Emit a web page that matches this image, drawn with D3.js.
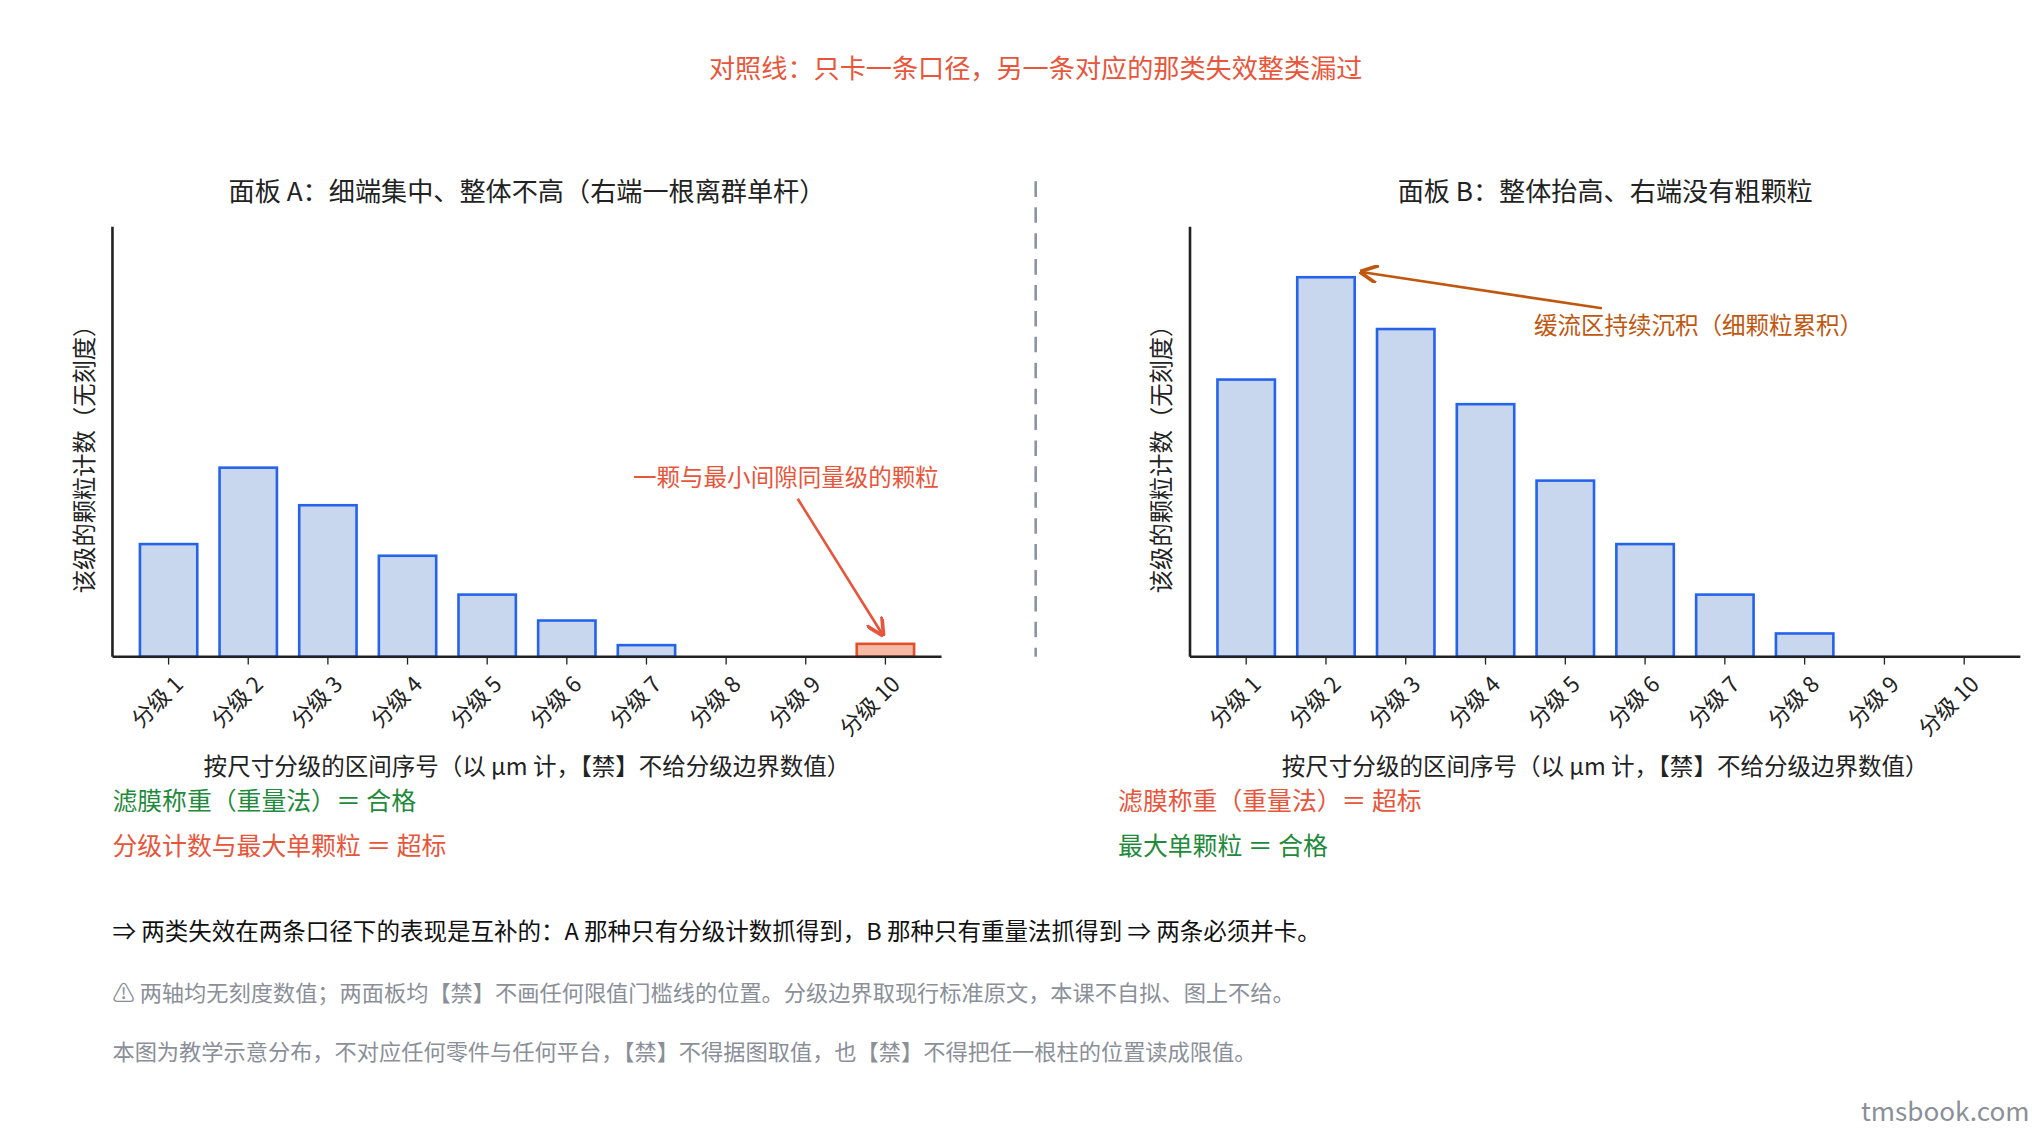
<!DOCTYPE html><html><head><meta charset="utf-8"><script src="https://cdn.jsdelivr.net/npm/d3@7"></script>
<style>body{margin:0;background:#fff}svg{display:block}text{font-family:"Noto Sans CJK SC","Noto Sans",sans-serif}</style></head><body>
<script>
const categories=["分级 1","分级 2","分级 3","分级 4","分级 5","分级 6","分级 7","分级 8","分级 9","分级 10"];
const valuesA=[87,146,117,78,48,28,9,0,0,10];
const valuesB=[214,293,253,195,136,87,48,18,0,0];
const highlightA=[false,false,false,false,false,false,false,false,false,true];
const svg=d3.select("body").append("svg").attr("width",2040).attr("height",1140).attr("viewBox","0 0 1560 880").attr("preserveAspectRatio","none");
const red="#e8553a",green="#1f8a3c",grey="#8a8f98";
function T(x,y,s,size,fill,anchor){return svg.append("text").attr("x",x).attr("y",y).text(s).attr("font-size",size).attr("fill",fill||"#222").attr("text-anchor",anchor||"start");}
T(792,60,"对照线：只卡一条口径，另一条对应的那类失效整类漏过",20,red,"middle");
svg.append("line").attr("x1",792).attr("x2",792).attr("y1",140).attr("y2",507).attr("stroke","#8a94a6").attr("stroke-width",2).attr("stroke-dasharray","12,8");
const y=d3.scaleLinear().domain([0,332]).range([507,175]);
function panel(x0,x1,vals,hl,title){
  const x=d3.scaleBand().domain(categories).range([x0+21,x1-21]).paddingInner(0.28).paddingOuter(0);
  const g=svg.append("g");
  g.selectAll("rect").data(vals).join("rect").attr("x",(d,i)=>x(categories[i])).attr("width",x.bandwidth())
   .attr("y",d=>y(d)).attr("height",d=>507-y(d)).attr("fill",(d,i)=>hl&&hl[i]?"#f5b9a6":"#c8d6ee")
   .attr("stroke",(d,i)=>hl&&hl[i]?"#e0502a":"#2563eb").attr("stroke-width",2);
  const ax=g.append("g").attr("transform","translate(0,507)").call(d3.axisBottom(x).tickSize(6).tickSizeOuter(0));
  ax.select(".domain").attr("d",`M${x0},0H${x1}`).attr("stroke","#222").attr("stroke-width",2);
  ax.selectAll(".tick line").attr("stroke","#222");
  ax.selectAll(".tick text").attr("font-size",17).attr("fill","#222").attr("text-anchor","end").attr("dy",0).attr("transform","translate(6,16) rotate(-45)");
  g.append("line").attr("x1",x0).attr("x2",x0).attr("y1",175).attr("y2",507).attr("stroke","#222").attr("stroke-width",2);
  T((x0+x1)/2,155,title,20,"#222","middle");
  T((x0+x1)/2,598,"按尺寸分级的区间序号（以 μm 计，【禁】不给分级边界数值）",18,"#222","middle");
  svg.append("text").attr("transform",`translate(${x0-15},350) rotate(-90)`).attr("text-anchor","middle").attr("font-size",18).attr("fill","#222").text("该级的颗粒计数（无刻度）");
  return x;
}
panel(86,720,valuesA,highlightA,"面板 A：细端集中、整体不高（右端一根离群单杆）");
panel(910,1545,valuesB,null,"面板 B：整体抬高、右端没有粗颗粒");
const defs=svg.append("defs");
[["ar",red],["ab","#c0570f"]].forEach(([id,c])=>defs.append("marker").attr("id",id).attr("viewBox","0 0 10 10").attr("refX",9).attr("refY",5).attr("markerWidth",7).attr("markerHeight",7).attr("orient","auto").append("path").attr("d","M0,0L10,5L0,10").attr("fill","none").attr("stroke",c).attr("stroke-width",2));
T(601,375,"一颗与最小间隙同量级的颗粒",18,red,"middle");
svg.append("line").attr("x1",610).attr("y1",385).attr("x2",675).attr("y2",490).attr("stroke",red).attr("stroke-width",2).attr("marker-end","url(#ar)");
T(1173,258,"缓流区持续沉积（细颗粒累积）",18,"#c0570f");
svg.append("line").attr("x1",1225).attr("y1",238).attr("x2",1041).attr("y2",210).attr("stroke","#c0570f").attr("stroke-width",2).attr("marker-end","url(#ab)");
T(86,625,"滤膜称重（重量法）＝ 合格",19,green);
T(86,660,"分级计数与最大单颗粒 ＝ 超标",19,red);
T(855,625,"滤膜称重（重量法）＝ 超标",19,red);
T(855,660,"最大单颗粒 ＝ 合格",19,green);
T(86,726,"⇒ 两类失效在两条口径下的表现是互补的：A 那种只有分级计数抓得到，B 那种只有重量法抓得到 ⇒ 两条必须并卡。",18,"#111");
T(86,773,"⚠ 两轴均无刻度数值；两面板均【禁】不画任何限值门槛线的位置。分级边界取现行标准原文，本课不自拟、图上不给。",17,grey);
T(86,818,"本图为教学示意分布，不对应任何零件与任何平台，【禁】不得据图取值，也【禁】不得把任一根柱的位置读成限值。",17,grey);
T(1552,865,"tmsbook.com",20,grey,"end");
</script></body></html>
